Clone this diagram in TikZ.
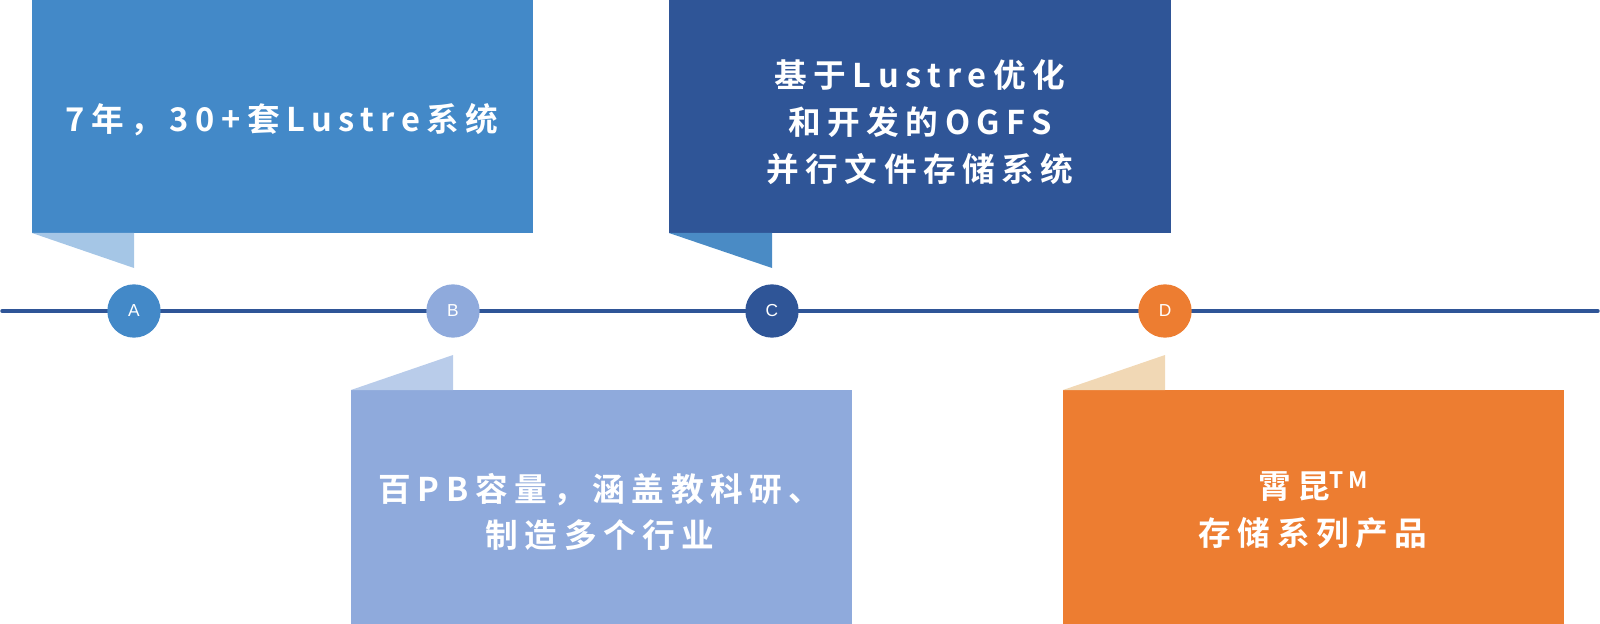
\documentclass[tikz,border=0pt]{standalone}
\usepackage{fontspec}
\setmainfont{Liberation Sans}
\newfontfamily\cjk[LetterSpace=20]{Noto Sans CJK SC Bold}
\definecolor{cA}{HTML}{4389C8}
\definecolor{cAt}{HTML}{A5C6E6}
\definecolor{cB}{HTML}{8FAADC}
\definecolor{cBt}{HTML}{B9CCEA}
\definecolor{cC}{HTML}{2F5597}
\definecolor{cCt}{HTML}{4A8BC5}
\definecolor{cD}{HTML}{ED7D31}
\definecolor{cDt}{HTML}{F1D8B5}
\begin{document}
\begin{tikzpicture}[x=0.75pt,y=-0.75pt,
  dot/.style={circle, minimum size=40pt, inner sep=0pt, text=white,
    font=\fontsize{13}{13}\selectfont},
  label/.style={text=white, align=center, inner sep=0pt,
    font=\cjk\fontsize{24.5}{35}\selectfont},
  tline/.style={draw=cC, line width=2.6pt, line cap=round}]
\useasboundingbox (0,0) rectangle (1600,624);
% cards
\fill[cA] (32,0) rectangle (533,233);
\fill[cAt] (32,233) -- (134,233) -- (134,268) -- cycle;
\fill[cC] (669,0) rectangle (1171,233);
\fill[cCt] (669,233) -- (772,233) -- (772,268) -- cycle;
\fill[cB] (351,390) rectangle (852,624);
\fill[cBt] (351,390) -- (453,390) -- (453,355) -- cycle;
\fill[cD] (1063,390) rectangle (1564,624);
\fill[cDt] (1063,390) -- (1165,390) -- (1165,355) -- cycle;
% timeline
\coordinate (L) at (2,311);
\coordinate (R) at (1598,311);
\draw[tline] (L) -- (R);
\node[dot, fill=cA] (A) at (134,311) {A};
\node[dot, fill=cB] (B) at (453,311) {B};
\node[dot, fill=cC] (C) at (772,311) {C};
\node[dot, fill=cD] (D) at (1165,311) {D};
% texts
\node[label] (tA) at (282,120) {7年，30+套Lustre系统};
\node[label] (tC) at (920,122) {基于Lustre优化\\和开发的OGFS\\并行文件存储系统};
\node[label] (tB) at (600,512) {百PB容量，涵盖教科研、\\制造多个行业};
\node[label] (tD) at (1313,510) {霄昆\raisebox{7.5pt}{\fontsize{17}{17}\selectfont TM}\\存储系列产品};
\end{tikzpicture}
\end{document}
